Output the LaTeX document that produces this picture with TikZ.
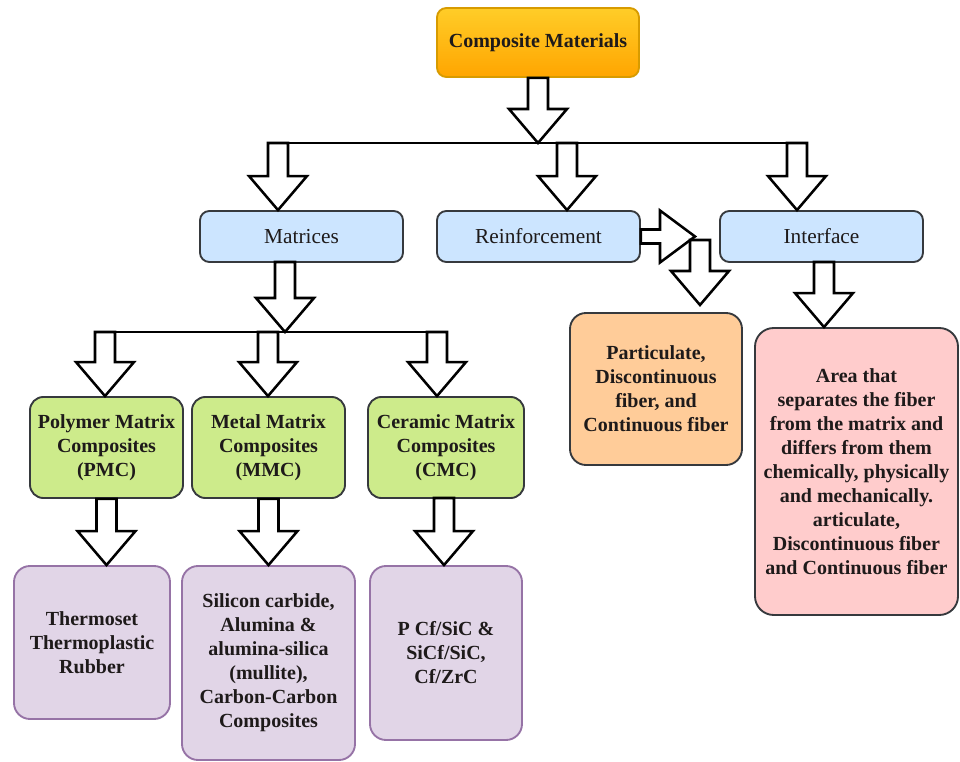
\documentclass[tikz,border=0pt]{standalone}
\usepackage{fontspec}
\setmainfont{Liberation Serif}
\usepackage{tikz}
\usetikzlibrary{positioning, calc}

\definecolor{cmtop}{HTML}{FFCD28}
\definecolor{cmbottom}{HTML}{FFA500}
\definecolor{cmline}{HTML}{D79B00}
\definecolor{headblue}{HTML}{CCE5FF}
\definecolor{typegreen}{HTML}{CDEB8B}
\definecolor{partorange}{HTML}{FFCC99}
\definecolor{areapink}{HTML}{FFCCCC}
\definecolor{expurple}{HTML}{E1D5E7}
\definecolor{exline}{HTML}{9673A6}
\definecolor{boxline}{HTML}{36393D}
\definecolor{textdark}{HTML}{1E1A1A}

\def\px{0.75pt}

% hollow block arrow pointing down, from #1 to the height of #2
\def\downblock#1#2{%
    \draw[blockarrow]
        let
            \p1 = #1,
            \p2 = #2
        in
            (\x1-7.5pt,\y1) -- (\x1-7.5pt,\y2+25.5pt) -- (\x1-21.75pt,\y2+25.5pt)
            -- (\x1,\y2) -- (\x1+21.75pt,\y2+25.5pt) -- (\x1+7.5pt,\y2+25.5pt)
            -- (\x1+7.5pt,\y1) -- cycle;
}

% hollow block arrow pointing right
\def\rightblock#1#2{%
    \draw[blockarrow]
        let
            \p1 = #1,
            \p2 = #2
        in
            (\x1,\y1+5.25pt) -- (\x2-26.25pt,\y1+5.25pt) -- (\x2-26.25pt,\y1+19.5pt)
            -- (\x2,\y1) -- (\x2-26.25pt,\y1-19.5pt) -- (\x2-26.25pt,\y1-5.25pt)
            -- (\x1,\y1-5.25pt) -- cycle;
}

\begin{document}
\begin{tikzpicture}[x=\px, y=-\px,
    box/.style={draw=boxline, line width=1.4pt, rounded corners=7pt, align=center,
        inner sep=2pt, text=textdark, font=\fontsize{15}{18}\selectfont\bfseries},
    topbox/.style={box, draw=cmline, top color=cmtop, bottom color=cmbottom},
    headbox/.style={box, fill=headblue, font=\fontsize{16}{19}\selectfont,
        minimum width=203*\px, minimum height=51*\px},
    typebox/.style={box, fill=typegreen, rounded corners=10pt, minimum height=101*\px},
    exbox/.style={box, draw=exline, fill=expurple, rounded corners=12pt},
    blockarrow/.style={draw=black, fill=white, line width=1.9pt, line join=miter},
    bus/.style={draw=black, line width=2pt}]

    \useasboundingbox (0,0) rectangle (960,762);

    % boxes
    \node[topbox, minimum width=202*\px, minimum height=69*\px] (cm) at (538,42.5) {Composite Materials};

    \node[headbox] (mat)   at (301.5,236.5) {Matrices};
    \node[headbox] (reinf) at (538.5,236.5) {Reinforcement};
    \node[headbox] (inter) at (821.5,236.5) {Interface};

    \node[typebox, minimum width=153*\px] (pmc) at (106.5,447.5) {Polymer Matrix\\Composites\\(PMC)};
    \node[typebox, minimum width=153*\px] (mmc) at (268.5,447.5) {Metal Matrix\\Composites\\(MMC)};
    \node[typebox, minimum width=156*\px] (cmc) at (446,447.5) {Ceramic Matrix\\Composites\\(CMC)};

    \node[exbox, minimum width=156*\px, minimum height=153*\px] (thermo) at (92,642.5)
        {Thermoset\\Thermoplastic\\Rubber};
    \node[exbox, minimum width=173*\px, minimum height=194*\px] (silicon) at (268.5,663)
        {Silicon carbide,\\Alumina \&\\alumina-silica\\(mullite),\\Carbon-Carbon\\Composites};
    \node[exbox, minimum width=152*\px, minimum height=174*\px] (cfsic) at (446,653)
        {P Cf/SiC \&\\SiCf/SiC,\\Cf/ZrC};

    \node[box, fill=partorange, rounded corners=12pt, minimum width=172*\px, minimum height=152*\px]
        (part) at (656,389) {Particulate,\\Discontinuous\\fiber, and\\Continuous fiber};
    \node[box, fill=areapink, rounded corners=14pt, minimum width=203*\px, minimum height=287*\px]
        (area) at (856.5,471.5) {Area that\\separates the fiber\\from the matrix and\\differs from them\\chemically, physically\\and mechanically.\\articulate,\\Discontinuous fiber\\and Continuous fiber};

    % bus lines
    \coordinate (bus1s) at (268,143);
    \coordinate (bus1e) at (807,143);
    \coordinate (bus2s) at (95,332);
    \coordinate (bus2e) at (447,332);
    \draw[bus] (bus1s) -- (bus1e);
    \draw[bus] (bus2s) -- (bus2e);

    % arrow starts
    \coordinate (a1) at (278,143);
    \coordinate (a2) at (567,143);
    \coordinate (a3) at (797,143);
    \coordinate (m0) at (285,262);
    \coordinate (b1) at (105,332);
    \coordinate (b2) at (268,332);
    \coordinate (b3) at (437,332);
    \coordinate (c3) at (444,498);
    \coordinate (i0) at (824,262);
    \coordinate (rtip) at (695,236);
    \coordinate (r1) at (700,240);
    \coordinate (ptip) at (700,305);

    % down arrows
    \foreach \from/\to in {
        cm.south/cm.south |- bus1s,
        a1/a1 |- mat.north,
        a2/a2 |- reinf.north,
        a3/a3 |- inter.north,
        m0/m0 |- bus2s,
        b1/b1 |- pmc.north,
        b2/b2 |- mmc.north,
        b3/b3 |- cmc.north,
        pmc.south/pmc.south |- thermo.north,
        mmc.south/mmc.south |- silicon.north,
        c3/c3 |- cfsic.north,
        i0/i0 |- area.north}
    {
        \downblock{(\from)}{(\to)}
    }

    % reinforcement side arrows
    \rightblock{(reinf.east)}{(rtip)}
    \downblock{(r1)}{(ptip)}

\end{tikzpicture}
\end{document}
